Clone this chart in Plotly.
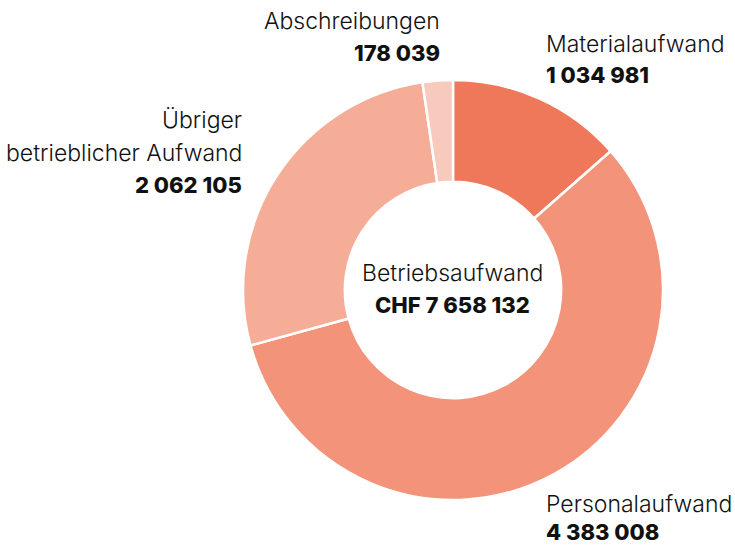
import plotly.graph_objects as go

categories = ["Materialaufwand", "Personalaufwand", "Übriger betrieblicher Aufwand", "Abschreibungen"]
values = [1034981, 4383008, 2062105, 178039]
value_labels = ["1 034 981", "4 383 008", "2 062 105", "178 039"]
colors = ["#EF775A", "#F2937A", "#F5AD98", "#F8C9BD"]
total_label = "CHF 7 658 132"
center_title = "Betriebsaufwand"

W, H = 735, 547
FONT = "Inter"

fig = go.Figure(go.Pie(
    labels=categories, values=values, hole=0.515, sort=False,
    direction="clockwise", rotation=0,
    marker=dict(colors=colors, line=dict(color="white", width=2.5)),
    textinfo="none", hoverinfo="label+value", showlegend=False,
    domain=dict(x=[(453 - 210) / W, (453 + 210) / W], y=[(H - 500) / H, (H - 80) / H]),
))

def ann(text, px, py, anchor, bold=False):
    fig.add_annotation(
        text=text,
        x=px / W, y=1 - py / H, xref="paper", yref="paper",
        xanchor=anchor, yanchor="middle", showarrow=False, borderpad=0,
        font=dict(family=FONT, size=22 if bold else 23, color="#111111",
                  weight=800 if bold else 300),
    )

# Abschreibungen
ann(categories[3], 441, 21, "right")
ann(value_labels[3], 441, 53, "right", True)
# Material
ann(categories[0], 545, 44, "left")
ann(value_labels[0], 545, 75, "left", True)
# Übriger
ann("Übriger", 243, 120, "right")
ann("betrieblicher Aufwand", 243, 153, "right")
ann(value_labels[2], 243, 185, "right", True)
# Personal
ann(categories[1], 545, 504, "left")
ann(value_labels[1], 545, 532, "left", True)
# center
ann(center_title, 453, 273, "center")
ann(total_label, 453, 305, "center", True)

fig.update_layout(width=W, height=H, margin=dict(l=0, r=0, t=0, b=0),
                  paper_bgcolor="white", plot_bgcolor="white")
fig.write_html("out.html", config={"displayModeBar": False},
               post_script="document.body.style.margin='0';document.body.style.overflow='hidden';")
